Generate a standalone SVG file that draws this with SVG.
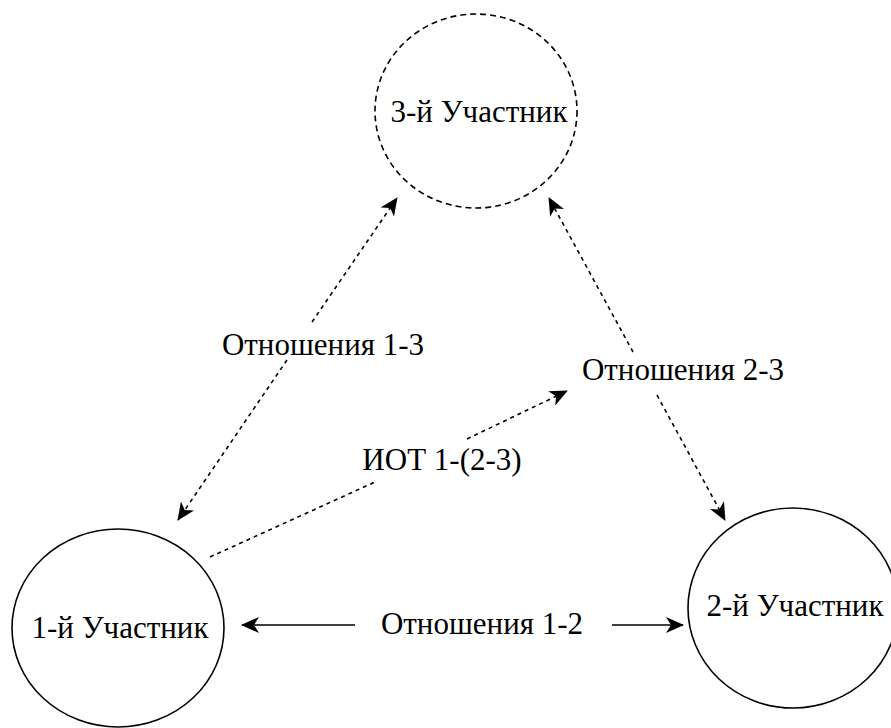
<svg xmlns="http://www.w3.org/2000/svg" width="891" height="728" viewBox="0 0 891 728">
  <style>
    .node { fill: none; stroke: #000; stroke-width: 1.6; }
    .dashed { stroke-dasharray: 6 4; }
    .label { font-family: "Liberation Serif", "Times New Roman", "DejaVu Serif", serif; font-size: 31px; fill: #000; text-anchor: middle; }
    .link { fill: none; stroke: #000; stroke-width: 1.6; }
    .dotted { stroke-dasharray: 4 4; }
  </style>
  <defs>
    <marker id="arrow" viewBox="0 0 18 16" refX="17" refY="8" markerWidth="18" markerHeight="16" markerUnits="userSpaceOnUse" orient="auto">
      <path d="M0,0 L18,8 L0,16 L5,8 z" fill="#000"/>
    </marker>
  </defs>
  <rect width="891" height="728" fill="#fff"/>

  <g id="participant-3">
    <ellipse class="node dashed" cx="476" cy="111" rx="101" ry="97"/>
    <text class="label" x="479" y="122">3-й Участник</text>
  </g>

  <g id="participant-1">
    <ellipse class="node" cx="118" cy="628" rx="106" ry="99"/>
    <text class="label" x="120" y="638">1-й Участник</text>
  </g>

  <g id="participant-2">
    <ellipse class="node" cx="793" cy="608" rx="105" ry="100"/>
    <text class="label" x="795" y="616">2-й Участник</text>
  </g>

  <g id="connectors">
    <!-- relation 1-3 -->
    <line class="link dotted" x1="312" y1="322" x2="397" y2="198" marker-end="url(#arrow)"/>
    <line class="link dotted" x1="287" y1="360" x2="178" y2="520" marker-end="url(#arrow)"/>
    <text class="label" x="323" y="355">Отношения 1-3</text>

    <!-- relation 2-3 -->
    <line class="link dotted" x1="633" y1="352" x2="549" y2="198" marker-end="url(#arrow)"/>
    <line class="link dotted" x1="657" y1="395" x2="725" y2="520" marker-end="url(#arrow)"/>
    <text class="label" x="683" y="380">Отношения 2-3</text>

    <!-- IOT 1-(2-3) -->
    <line class="link dotted" x1="210" y1="557" x2="375" y2="482"/>
    <line class="link dotted" x1="467" y1="439" x2="567" y2="391" marker-end="url(#arrow)"/>
    <text class="label" x="442" y="470">ИОТ 1-(2-3)</text>

    <!-- relation 1-2 -->
    <line class="link" x1="355" y1="625" x2="242" y2="625" marker-end="url(#arrow)"/>
    <line class="link" x1="612" y1="625" x2="683" y2="625" marker-end="url(#arrow)"/>
    <text class="label" x="482" y="634">Отношения 1-2</text>
  </g>
</svg>
